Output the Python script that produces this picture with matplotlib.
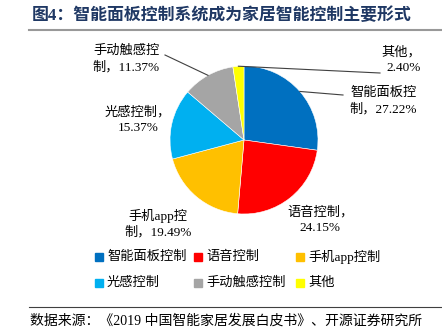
import matplotlib
matplotlib.use("Agg")
import matplotlib.pyplot as plt
from matplotlib.lines import Line2D
import numpy as np

plt.rcParams['font.family'] = ['Liberation Serif', 'Noto Sans CJK SC', 'DejaVu Sans']

categories = ['智能面板控制', '语音控制', '手机app控制', '光感控制', '手动触感控制', '其他']
values = [27.22, 24.15, 19.49, 15.37, 11.37, 2.40]
colors = ['#0070C0', '#FF0000', '#FFC000', '#00B0F0', '#A5A5A5', '#FFFF00']
label_texts = ['智能面板控\n制，27.22%', '语音控制，\n24.15%', '手机app控\n制，19.49%',
               '光感控制，\n15.37%', '手动触感控\n制，11.37%', '其他，\n2.40%']
title = '图4：智能面板控制系统成为家居智能控制主要形式'
source = '数据来源：《2019 中国智能家居发展白皮书》、开源证券研究所'

W, H = 442, 336
fig = plt.figure(figsize=(W / 100, H / 100), dpi=100)

def fx(px):
    return px / W

def fy(py):
    return 1 - py / H

# pie axes: center (244,140), radius 74 px
cx, cy, r = 244, 140, 74
ax = fig.add_axes([fx(cx - r), fy(cy + r), 2 * r / W, 2 * r / H])
wedges, _ = ax.pie(values, colors=colors, startangle=90, counterclock=False,
                   radius=1, wedgeprops=dict(edgecolor='white', linewidth=0.4))
ax.set_xlim(-1, 1)
ax.set_ylim(-1, 1)
ax.set_aspect('equal')
ax.axis('off')

fs = 9.5
# label positions (pixel centers) and alignment
label_pos = [(383, 101, 'center'), (320, 220, 'center'), (158, 224, 'center'),
             (138, 120, 'center'), (126, 59, 'center'), (401, 60, 'center')]
for i, (t, (px, py, ha)) in enumerate(zip(label_texts, label_pos)):
    fig.text(fx(px), fy(py), t, ha=ha, va='center', fontsize=fs, linespacing=1.35,
             multialignment='right' if i in (0, 5) else 'center')

# leader lines
total = sum(values)
cum = np.cumsum([0] + values)
leaders = {0: (343, 95), 4: (165, 55), 5: (380, 73)}
for i, (ex, ey) in leaders.items():
    mid = 90 - 360 * (cum[i] + values[i] / 2) / total
    x0, y0 = np.cos(np.radians(mid)), np.sin(np.radians(mid))
    px0, py0 = cx + r * x0, cy - r * y0
    fig.add_artist(Line2D([fx(px0), fx(ex)], [fy(py0), fy(ey)], color='#404040', lw=0.8))

# title
fig.text(fx(32), fy(16), title, ha='left', va='center', fontsize=12.2, fontweight='bold',
         color='#1F3864')
fig.add_artist(Line2D([fx(29), fx(442)], [fy(30), fy(30)], color='#999999', lw=1.5))

# source
fig.add_artist(Line2D([fx(29), fx(442)], [fy(307), fy(307)], color='#404040', lw=0.8))
fig.text(fx(30), fy(321), source, ha='left', va='center', fontsize=10)

# legend (manual grid: rows at y 257, 283; columns at x 99, 198, 300)
col_x = [99, 198, 300]
row_y = [257, 283]
for i, cat in enumerate(categories):
    rr, cc = divmod(i, 3)
    px, py = col_x[cc], row_y[rr]
    fig.add_artist(Line2D([fx(px)], [fy(py)], marker='s', markersize=5.5, color=colors[i],
                          linestyle='none'))
    fig.text(fx(px + 8), fy(py), cat, ha='left', va='center', fontsize=fs)

fig.savefig('out.png', dpi=100)
